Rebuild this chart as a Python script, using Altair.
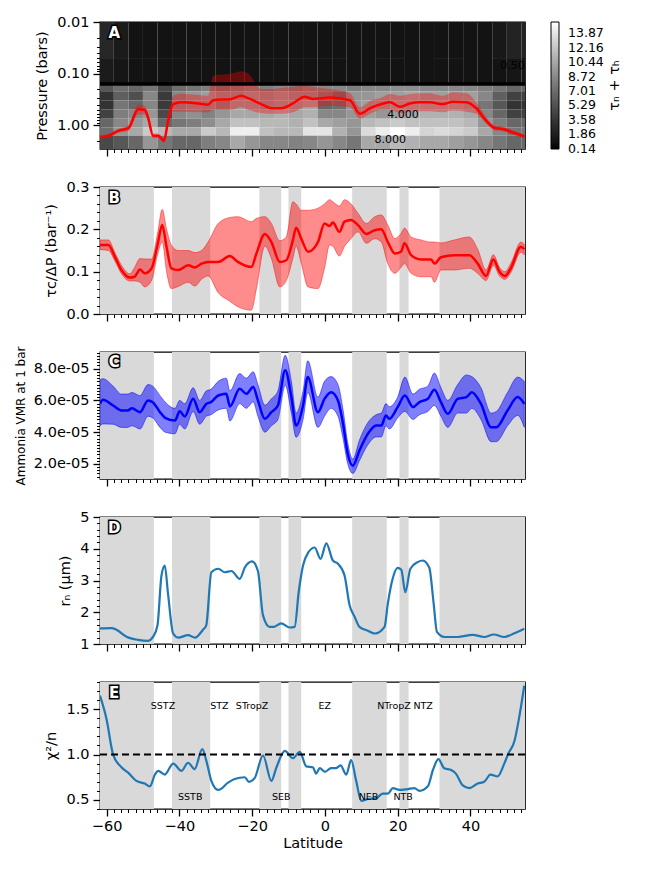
import altair as alt
import pandas as pd

# ---------------- shared ----------------
lat_domain = [-61.8, 55.0]
belt_start = [-65.0, -42.0, -18.0, -10.0, 7.5, 20.5, 31.5]
belt_end = [-47.0, -31.5, -12.0, -6.5, 17.0, 23.0, 60.0]

zone_names = ["SSTZ", "STZ", "STropZ", "EZ", "NTropZ", "NTZ"]
zone_lat = [-44.5, -29.0, -20.0, 0.0, 19.0, 27.0]
belt_names = ["SSTB", "SEB", "NEB", "NTB"]
belt_lat = [-37.0, -12.0, 12.0, 21.5]

# ---------------- panel A : tau_n + tau_h map ----------------
heat_lat_edges = [-62, -58, -54, -50, -46, -42, -38, -34, -30, -26, -22, -18, -14, -10, -6, -2,
                  2, 6, 10, 14, 18, 22, 26, 30, 34, 38, 42, 46, 50, 54, 58]
heat_p_edges = [0.01, 0.05, 0.16, 0.22, 0.33, 0.5, 0.75, 1.1, 1.6, 2.9]
heat_t1 = [2.5, 1.6] + [1.0] * 25 + [1.4, 2.2, 2.2]
heat_t2 = [1.6, 1.2] + [1.0] * 26 + [1.2, 1.2]
heat_r1 = [5.7, 7.1, 6.7, 7.6, 4.8, 7.1, 7.6, 8.1, 7.6, 8.1, 8.6, 8.1, 8.6, 8.1, 8.6,
           8.6, 8.6, 8.1, 8.6, 8.6, 9.0, 9.0, 8.6, 8.6, 8.6, 8.6, 8.1, 7.6, 6.7, 6.7]
heat_r2 = [3.3, 6.2, 5.2, 8.6, 3.8, 8.6, 9.5, 10.0, 9.5, 9.5, 10.0, 9.5, 10.0, 9.5, 9.5,
           8.1, 7.1, 9.5, 9.5, 10.0, 10.0, 10.5, 10.0, 10.0, 10.0, 10.0, 8.6, 6.2, 4.3, 4.3]
heat_r3 = [3.3, 7.6, 6.7, 8.6, 3.8, 9.0, 9.5, 9.5, 8.6, 10.0, 10.0, 9.5, 10.0, 10.0, 10.5,
           6.7, 7.1, 9.5, 10.0, 10.0, 10.5, 10.5, 10.5, 10.5, 10.5, 10.0, 7.6, 5.7, 3.3, 3.3]
heat_r4 = [4.3, 8.1, 8.6, 9.5, 4.8, 8.6, 9.2, 8.3, 9.5, 10.5, 10.5, 10.5, 11.0, 10.5, 11.0,
           8.6, 8.6, 9.5, 10.0, 9.5, 10.0, 10.5, 11.0, 11.0, 11.0, 10.5, 8.6, 6.7, 4.3, 4.3]
heat_r5 = [6.7, 8.6, 9.5, 10.5, 6.7, 7.6, 8.1, 9.0, 10.5, 11.9, 11.9, 11.4, 11.4, 11.0, 11.9,
           10.5, 10.0, 9.5, 11.4, 11.9, 12.4, 11.9, 11.9, 11.9, 11.9, 11.4, 9.5, 8.1, 6.7, 6.7]
heat_r6 = [7.1, 9.5, 10.5, 12.4, 11.4, 10.5, 10.5, 12.4, 11.4, 14.3, 14.3, 11.9, 11.4, 11.4, 13.8,
           13.8, 11.0, 9.5, 13.3, 14.3, 15.2, 14.3, 12.9, 13.3, 12.9, 12.4, 10.5, 8.6, 7.6, 7.6]
heat_r7 = [4.8, 5.7, 6.7, 9.5, 7.6, 6.7, 6.7, 8.1, 8.6, 10.5, 9.5, 8.6, 8.6, 8.3, 8.6,
           9.5, 8.6, 7.6, 10.5, 10.5, 11.4, 11.0, 10.5, 10.5, 10.0, 9.5, 8.6, 7.6, 6.7, 6.7]
heat_rows = [heat_t1, heat_t2, heat_r1, heat_r2, heat_r3, heat_r4, heat_r5, heat_r6, heat_r7]
cbar_domain = [0.12, 15.2]
cbar_ticks = [0.14, 1.86, 3.58, 5.29, 7.01, 8.72, 10.44, 12.16, 13.87]
cbar_label = "τₙ + τₕ"
haze_boundary_p = [0.16]

A_lat = [-61.8, -59.5, -56.8, -54.0, -51.3, -49.5, -48.6, -47.2, -45.8, -44.2, -43.1, -41.7,
         -39.4, -34.8, -32.1, -30.7, -25.7, -23.0, -21.1, -17.5, -14.7, -12.0, -8.3, -5.6,
         -3.3, 1.4, 6.9, 9.6, 12.4, 15.6, 17.9, 20.6, 23.3, 26.1, 28.8, 32.5, 35.2, 38.9,
         41.6, 44.4, 46.7, 48.9, 51.7, 54.8]
A_p = [1.70, 1.61, 1.29, 1.14, 0.49, 0.51, 0.71, 1.61, 1.61, 2.0, 0.83, 0.39,
       0.36, 0.38, 0.40, 0.33, 0.31, 0.27, 0.30, 0.39, 0.47, 0.47, 0.36, 0.28,
       0.31, 0.29, 0.33, 0.60, 0.47, 0.39, 0.36, 0.44, 0.38, 0.36, 0.36, 0.39, 0.35, 0.36,
       0.47, 0.83, 1.14, 1.19, 1.39, 1.65]
A_p_top = [1.55, 1.48, 1.18, 1.0, 0.40, 0.42, 0.60, 1.45, 1.45, 1.8, 0.7, 0.27,
           0.25, 0.26, 0.27, 0.11, 0.10, 0.09, 0.10, 0.20, 0.20, 0.19, 0.18, 0.17,
           0.18, 0.20, 0.24, 0.45, 0.34, 0.29, 0.25, 0.27, 0.25, 0.24, 0.24, 0.27, 0.23, 0.24,
           0.36, 0.70, 1.02, 1.07, 1.26, 1.50]
A_p_bot = [1.85, 1.75, 1.42, 1.30, 0.62, 0.62, 0.85, 1.8, 1.8, 2.2, 1.0, 0.55,
           0.55, 0.56, 0.56, 0.50, 0.50, 0.45, 0.50, 0.58, 0.60, 0.60, 0.55, 0.45,
           0.45, 0.42, 0.45, 0.75, 0.60, 0.50, 0.50, 0.58, 0.55, 0.54, 0.54, 0.56, 0.52, 0.55,
           0.60, 0.95, 1.27, 1.32, 1.53, 1.80]
contour_text = ["4.000", "8.000", "0.500"]
contour_lat = [21.5, 18.0, 52.5]
contour_p = [0.63, 1.95, 0.071]

# ---------------- panel B ----------------
B_lat = [-61.8, -59.5, -57.7, -55.9, -53.6, -52.3, -50.8, -49.5, -47.6, -46.0, -44.7, -43.5,
         -42.2, -40.3, -37.6, -35.7, -33.9, -32.1, -29.3, -26.1, -23.9, -20.2, -18.8, -16.5,
         -14.7, -12.4, -10.6, -8.8, -7.9, -6.5, -4.6, -1.9, -0.1, 1.3, 2.2, 4.0, 5.4, 7.2,
         9.1, 11.4, 13.7, 15.5, 17.3, 19.2, 20.9, 21.9, 23.7, 26.4, 29.2, 30.1, 31.9, 35.6,
         39.7, 42.0, 44.3, 46.3, 48.0, 49.5, 51.1, 53.9, 54.8]
B_val = [0.163, 0.163, 0.135, 0.104, 0.086, 0.088, 0.105, 0.096, 0.108, 0.163, 0.210, 0.158,
         0.108, 0.104, 0.115, 0.110, 0.119, 0.123, 0.123, 0.137, 0.123, 0.111, 0.143, 0.189,
         0.170, 0.123, 0.127, 0.174, 0.204, 0.178, 0.147, 0.170, 0.214, 0.208, 0.216, 0.194,
         0.218, 0.222, 0.210, 0.189, 0.198, 0.200, 0.170, 0.143, 0.147, 0.167, 0.139, 0.129,
         0.129, 0.119, 0.134, 0.139, 0.139, 0.119, 0.090, 0.129, 0.100, 0.090, 0.108, 0.159, 0.153]
B_hi = [0.175, 0.175, 0.145, 0.115, 0.095, 0.110, 0.131, 0.130, 0.130, 0.190, 0.247, 0.200,
        0.163, 0.150, 0.150, 0.145, 0.150, 0.170, 0.214, 0.228, 0.230, 0.218, 0.226, 0.230,
        0.214, 0.173, 0.182, 0.265, 0.260, 0.245, 0.245, 0.250, 0.260, 0.270, 0.265, 0.255,
        0.270, 0.260, 0.238, 0.214, 0.230, 0.234, 0.210, 0.178, 0.190, 0.203, 0.182, 0.175,
        0.170, 0.170, 0.168, 0.175, 0.182, 0.153, 0.104, 0.140, 0.110, 0.100, 0.120, 0.170, 0.165]
B_lo = [0.152, 0.150, 0.125, 0.095, 0.078, 0.078, 0.075, 0.064, 0.080, 0.140, 0.170, 0.100,
        0.060, 0.065, 0.075, 0.066, 0.082, 0.090, 0.050, 0.030, 0.017, 0.009, 0.060, 0.160,
        0.131, 0.064, 0.079, 0.131, 0.160, 0.120, 0.064, 0.060, 0.108, 0.163, 0.160, 0.137,
        0.160, 0.178, 0.194, 0.167, 0.178, 0.170, 0.119, 0.096, 0.110, 0.119, 0.096, 0.088,
        0.088, 0.075, 0.104, 0.104, 0.108, 0.096, 0.079, 0.115, 0.090, 0.082, 0.098, 0.146, 0.140]

# ---------------- panel C (units of 1e-5) ----------------
C_lat = [-61.8, -61.0, -58.2, -55.9, -54.2, -53.0, -50.8, -48.6, -47.3, -45.3, -43.9, -41.2,
         -39.9, -38.5, -36.2, -34.4, -32.6, -31.3, -29.3, -27.1, -26.1, -23.4, -21.6, -19.7,
         -18.4, -16.5, -14.7, -12.9, -10.9, -9.2, -7.9, -6.0, -4.7, -1.9, -0.1, 1.7, 3.6, 5.0,
         6.3, 7.7, 9.5, 11.8, 14.1, 15.5, 16.8, 17.7, 20.0, 22.0, 24.2, 26.0, 28.3, 30.1, 31.9,
         33.8, 36.5, 38.9, 40.4, 42.9, 45.7, 47.1, 50.2, 53.0, 54.8]
C_val = [5.80, 6.04, 5.68, 5.37, 5.37, 5.50, 5.26, 6.00, 5.89, 5.26, 4.90, 4.73,
         5.31, 4.99, 6.10, 5.26, 5.78, 5.89, 6.31, 6.42, 5.62, 6.74, 6.42, 6.84,
         6.00, 4.84, 5.26, 5.68, 7.90, 6.20, 4.42, 5.68, 7.47, 5.26, 6.10, 6.52, 6.00, 4.52,
         2.63, 1.89, 2.84, 3.89, 4.42, 4.42, 5.05, 4.84, 5.58, 6.31, 5.58, 5.89, 6.10, 6.67, 5.89,
         5.16, 6.10, 6.21, 6.52, 5.78, 4.31, 4.31, 5.37, 6.21, 5.78]
C_hi = [7.30, 7.37, 6.90, 6.40, 6.40, 6.50, 6.30, 7.00, 6.90, 6.30, 5.90, 5.50,
        6.00, 5.80, 6.80, 6.00, 6.60, 6.70, 7.20, 7.40, 6.60, 7.70, 7.40, 7.80,
        7.00, 5.70, 6.10, 6.60, 8.84, 7.20, 5.20, 6.60, 8.50, 6.20, 7.20, 7.50, 7.00, 5.40,
        3.30, 2.30, 3.50, 4.60, 5.10, 5.20, 5.80, 5.60, 6.20, 7.47, 6.40, 6.70, 6.90, 7.72, 6.80,
        6.00, 7.00, 7.60, 7.50, 6.80, 5.20, 5.30, 6.50, 7.47, 7.20]
C_lo = [4.40, 4.52, 4.50, 4.30, 4.30, 4.40, 4.20, 5.00, 4.90, 4.30, 4.00, 3.90,
        4.50, 4.20, 5.30, 4.50, 5.00, 5.10, 5.40, 5.50, 4.70, 5.80, 5.50, 5.90,
        5.00, 4.00, 4.40, 4.80, 6.95, 5.20, 3.68, 4.80, 6.50, 4.30, 5.00, 5.50, 5.00, 3.60,
        2.00, 1.40, 2.20, 3.20, 3.70, 3.70, 4.40, 4.20, 4.90, 5.30, 4.80, 5.10, 5.30, 5.68, 5.00,
        4.30, 5.20, 5.20, 5.50, 4.80, 3.40, 3.40, 4.40, 5.05, 4.31]

# ---------------- panel D ----------------
D_lat = [-61.8, -58.6, -57.3, -54.5, -51.3, -48.6, -47.2, -46.0, -44.9, -44.0, -43.1, -41.7,
         -40.3, -37.6, -35.7, -33.5, -32.6, -31.2, -29.3, -27.5, -25.7, -23.4, -22.0, -20.0,
         -18.4, -17.0, -15.2, -14.1, -12.0, -9.7, -8.3, -7.2, -6.0, -4.6, -2.8, -1.2, 0.4,
         2.2, 3.6, 5.4, 6.8, 8.2, 9.5, 11.8, 13.7, 16.4, 17.3, 18.4, 20.0, 21.0, 22.1, 23.5,
         25.5, 26.9, 28.7, 29.9, 30.8, 32.9, 36.5, 40.6, 43.8, 46.4, 49.3, 52.1, 54.8]
D_val = [1.49, 1.50, 1.45, 1.23, 1.13, 1.10, 1.23, 1.59, 3.16, 3.47, 2.58, 1.33,
         1.20, 1.28, 1.20, 1.45, 1.59, 3.26, 3.37, 3.26, 3.30, 3.05, 3.41, 3.60,
         3.30, 1.90, 1.54, 1.54, 1.65, 1.52, 1.54, 2.63, 3.47, 3.88, 4.04, 3.68, 4.17,
         3.63, 3.53, 3.16, 2.22, 1.85, 1.54, 1.42, 1.33, 1.54, 2.27, 2.95, 3.40, 3.34, 2.63, 3.37,
         3.58, 3.63, 3.40, 2.27, 1.38, 1.22, 1.22, 1.29, 1.22, 1.30, 1.22, 1.34, 1.48]

# ---------------- panel E ----------------
E_lat = [-61.8, -60.0, -58.2, -55.9, -53.8, -51.8, -49.5, -48.1, -46.7, -45.8, -44.0, -41.7,
         -39.4, -37.6, -35.8, -33.7, -32.5, -31.2, -29.3, -26.6, -24.8, -22.0, -20.9, -19.3,
         -17.0, -14.7, -13.3, -11.0, -8.8, -6.9, -5.1, -3.3, -2.4, -1.4, 0.0, 1.7, 3.0, 4.3,
         5.9, 7.2, 8.6, 10.0, 11.8, 14.1, 15.9, 17.3, 18.7, 20.5, 22.8, 24.6, 26.0, 28.3, 29.7,
         31.2, 32.8, 34.7, 36.0, 37.9, 39.7, 42.0, 43.8, 45.5, 47.5, 49.3, 50.4, 52.1, 53.4, 54.8]
E_val = [1.65, 1.39, 1.00, 0.86, 0.79, 0.71, 0.68, 0.65, 0.78, 0.82, 0.78, 0.90,
         0.82, 0.91, 0.84, 1.06, 0.92, 0.71, 0.61, 0.69, 0.73, 0.75, 0.70, 0.74,
         0.99, 0.71, 0.86, 1.04, 0.96, 1.03, 0.87, 0.86, 0.79, 0.85, 0.81, 0.85, 0.85, 0.88,
         0.78, 0.94, 0.71, 0.49, 0.51, 0.52, 0.57, 0.57, 0.63, 0.61, 0.62, 0.63, 0.60, 0.65, 0.83,
         0.95, 0.85, 0.83, 0.79, 0.66, 0.63, 0.68, 0.70, 0.78, 0.76, 0.90, 1.01, 1.15, 1.41, 1.76]
E_ref = [1.0]

letter_lat = -57.9
letter_y = {"A": 0.0164, "B": 0.274, "C": 8.4, "D": 4.66, "E": 1.68}
zone_label_y = 1.54
belt_label_y = 0.535

# ---------------- build ----------------
W, H = 425, 127
FS = 14.5
xscale = alt.Scale(domain=lat_domain, nice=False, zero=False)
x_ticks = list(range(-62, 56, 2))
x_major = "datum.value % 20 === 0"


def x_axis(show):
    kw = dict(values=x_ticks, grid=False, domain=False, labelOverlap=False, labelFlush=False,
              tickColor="black",
              tickSize={"condition": {"test": x_major, "value": 7}, "value": 3.5},
              tickWidth={"condition": {"test": x_major, "value": 1.3}, "value": 1.0})
    if show:
        kw.update(labels=True, labelExpr=f"{x_major} ? format(datum.value, 'd') : ''",
                  title="Latitude", labelPadding=3, titlePadding=4, labelFontSize=FS,
                  titleFontSize=FS)
    else:
        kw.update(labels=False, title=None)
    return alt.Axis(**kw)


def X(field, show):
    return alt.X(field, type="quantitative", scale=xscale, axis=x_axis(show))


def y_axis(title, values, major, label_expr, title_size=FS, title_pad=7):
    return alt.Axis(values=values, title=title, grid=False, domain=False, labelOverlap=False,
                    labelFlush=False, labelExpr=f"({major}) ? {label_expr} : ''",
                    tickSize={"condition": {"test": major, "value": 7}, "value": 3.5},
                    tickWidth={"condition": {"test": major, "value": 1.3}, "value": 1.0},
                    tickColor="black", labelPadding=4, titlePadding=title_pad,
                    labelFontSize=FS, titleFontSize=title_size)


belts_df = pd.DataFrame({"x0": belt_start, "x1": belt_end})


def belts(show):
    return alt.Chart(belts_df).mark_rect(color="#d9d9d9", clip=True).encode(
        x=X("x0", show), x2="x1")


def letter(name, yenc_field_scale, show):
    df = pd.DataFrame({"lat": [letter_lat], "y": [letter_y[name]], "t": [name]})
    ysc, yax = yenc_field_scale
    base = alt.Chart(df).encode(x=X("lat", show), y=alt.Y("y:Q", scale=ysc, axis=yax), text="t:N")
    outline = base.mark_text(fontSize=15, fontWeight="bold", color="black", stroke="black",
                             strokeWidth=3)
    fill = base.mark_text(fontSize=15, fontWeight="bold", color="white")
    return outline + fill


# ---- panel A ----
heat_records = []
for i, row in enumerate(heat_rows):
    for j, v in enumerate(row):
        heat_records.append({"lat0": heat_lat_edges[j], "lat1": heat_lat_edges[j + 1],
                             "p0": heat_p_edges[i], "p1": heat_p_edges[i + 1], "v": v})
heat_df = pd.DataFrame(heat_records)

yA_scale = alt.Scale(type="log", domain=[0.01, 2.9], reverse=True, nice=False)
yA_vals = [0.01, 0.02, 0.03, 0.04, 0.05, 0.06, 0.07, 0.08, 0.09, 0.1, 0.2, 0.3, 0.4, 0.5, 0.6,
           0.7, 0.8, 0.9, 1, 2]
yA_major = "abs(log(datum.value)/LN10 - round(log(datum.value)/LN10)) < 1e-6"
yA_axis = y_axis("Pressure (bars)", yA_vals, yA_major, "format(datum.value, '.2f')")
cscale = alt.Scale(domain=cbar_domain, range=["#000000", "#ffffff"])

heat = alt.Chart(heat_df).mark_rect(clip=True).encode(
    x=X("lat0", False), x2="lat1",
    y=alt.Y("p0:Q", scale=yA_scale, axis=yA_axis), y2="p1",
    color=alt.Color("v:Q", scale=cscale, legend=alt.Legend(
        title=None, values=cbar_ticks, format=".2f", direction="vertical", orient="none",
        legendX=W + 26, legendY=0, type="gradient",
        gradientLength=H, gradientThickness=8, padding=0, labelOffset=9,
        labelFontSize=12.5, labelOverlap=False,
        gradientStrokeColor="black", gradientStrokeWidth=1)))

A_df = pd.DataFrame({"lat": A_lat, "p": A_p, "top": A_p_top, "bot": A_p_bot})
A_band = alt.Chart(A_df).mark_area(color="#ff0000", opacity=0.35, interpolate="monotone",
                                   clip=True).encode(
    x=X("lat", False), y=alt.Y("top:Q", scale=yA_scale, axis=yA_axis), y2="bot")
A_rule = alt.Chart(pd.DataFrame({"p": haze_boundary_p})).mark_rule(
    color="black", strokeWidth=3.5).encode(y=alt.Y("p:Q", scale=yA_scale, axis=yA_axis))
A_line = alt.Chart(A_df).mark_line(color="#ff0000", strokeWidth=2.5, interpolate="monotone",
                                   clip=True).encode(
    x=X("lat", False), y=alt.Y("p:Q", scale=yA_scale, axis=yA_axis))
A_ctext = alt.Chart(pd.DataFrame({"lat": contour_lat, "p": contour_p, "t": contour_text})
                    ).mark_text(fontSize=11, color="#000000", clip=True).encode(
    x=X("lat", False), y=alt.Y("p:Q", scale=yA_scale, axis=yA_axis), text="t:N")
A_cbar_title = alt.Chart(pd.DataFrame({"t": [cbar_label]})).mark_text(
    fontSize=FS, angle=270, color="black").encode(
    x=alt.value(W + 90), y=alt.value(H / 2), text="t:N")
panelA = alt.layer(heat, A_band, A_rule, A_line, A_ctext,
                   letter("A", (yA_scale, yA_axis), False), A_cbar_title
                   ).properties(width=W, height=H)

# ---- panel B ----
yB_scale = alt.Scale(domain=[0, 0.3], nice=False, zero=False)
yB_vals = [round(i * 0.02, 2) for i in range(16)]
yB_major = "abs(datum.value*10 - round(datum.value*10)) < 1e-6"
yB_axis = y_axis("τc/ΔP (bar⁻¹)", yB_vals, yB_major, "format(datum.value, '.1f')")
B_df = pd.DataFrame({"lat": B_lat, "v": B_val, "hi": B_hi, "lo": B_lo})
B_band = alt.Chart(B_df).mark_area(color="#ff0000", fillOpacity=0.45, stroke="#ff0000",
                                   strokeOpacity=0.45, strokeWidth=1, interpolate="monotone",
                                   clip=True).encode(
    x=X("lat", False), y=alt.Y("hi:Q", scale=yB_scale, axis=yB_axis), y2="lo")
B_line = alt.Chart(B_df).mark_line(color="#ff0000", strokeWidth=2.5, interpolate="monotone",
                                   clip=True).encode(
    x=X("lat", False), y=alt.Y("v:Q", scale=yB_scale, axis=yB_axis))
panelB = alt.layer(belts(False), B_band, B_line,
                   letter("B", (yB_scale, yB_axis), False)).properties(width=W, height=H)

# ---- panel C ----
yC_scale = alt.Scale(domain=[1.05, 9.05], nice=False, zero=False)
yC_vals = [round(1.2 + i * 0.2, 1) for i in range(40)]
yC_major = "abs(datum.value/2 - round(datum.value/2)) < 1e-6"
yC_axis = y_axis("Ammonia VMR at 1 bar", yC_vals, yC_major,
                 "format(datum.value, '.1f') + 'e-05'", title_size=12, title_pad=6)
C_df = pd.DataFrame({"lat": C_lat, "v": C_val, "hi": C_hi, "lo": C_lo})
C_band = alt.Chart(C_df).mark_area(color="#0000ff", fillOpacity=0.5, stroke="#0000ff",
                                   strokeOpacity=0.5, strokeWidth=1, interpolate="monotone",
                                   clip=True).encode(
    x=X("lat", False), y=alt.Y("hi:Q", scale=yC_scale, axis=yC_axis), y2="lo")
C_line = alt.Chart(C_df).mark_line(color="#0000ff", strokeWidth=2.5, interpolate="monotone",
                                   clip=True).encode(
    x=X("lat", False), y=alt.Y("v:Q", scale=yC_scale, axis=yC_axis))
panelC = alt.layer(belts(False), C_band, C_line,
                   letter("C", (yC_scale, yC_axis), False)).properties(width=W, height=H)

# ---- panel D ----
yD_scale = alt.Scale(domain=[1, 5], nice=False, zero=False)
yD_vals = [round(1 + i * 0.2, 1) for i in range(21)]
yD_major = "abs(datum.value - round(datum.value)) < 1e-6"
yD_axis = y_axis("rₙ (μm)", yD_vals, yD_major, "format(datum.value, 'd')")
D_df = pd.DataFrame({"lat": D_lat, "v": D_val})
D_line = alt.Chart(D_df).mark_line(color="#1f77b4", strokeWidth=2.2, interpolate="monotone",
                                   clip=True).encode(
    x=X("lat", False), y=alt.Y("v:Q", scale=yD_scale, axis=yD_axis))
panelD = alt.layer(belts(False), D_line,
                   letter("D", (yD_scale, yD_axis), False)).properties(width=W, height=H)

# ---- panel E ----
yE_scale = alt.Scale(domain=[0.4, 1.8], nice=False, zero=False)
yE_vals = [round(0.4 + i * 0.1, 1) for i in range(15)]
yE_major = "abs(datum.value*2 - round(datum.value*2)) < 1e-6"
yE_axis = y_axis("χ²/n", yE_vals, yE_major, "format(datum.value, '.1f')")
E_df = pd.DataFrame({"lat": E_lat, "v": E_val})
E_line = alt.Chart(E_df).mark_line(color="#1f77b4", strokeWidth=2.2, interpolate="monotone",
                                   clip=True).encode(
    x=X("lat", True), y=alt.Y("v:Q", scale=yE_scale, axis=yE_axis))
E_rule = alt.Chart(pd.DataFrame({"v": E_ref})).mark_rule(
    color="black", strokeWidth=2, strokeDash=[7, 4]).encode(
    y=alt.Y("v:Q", scale=yE_scale, axis=yE_axis))
labels_df = pd.DataFrame({"lat": zone_lat + belt_lat, "t": zone_names + belt_names,
                          "y": [zone_label_y] * len(zone_lat) + [belt_label_y] * len(belt_lat)})
E_text = alt.Chart(labels_df).mark_text(fontSize=9.5, color="black").encode(
    x=X("lat", True), y=alt.Y("y:Q", scale=yE_scale, axis=yE_axis), text="t:N")
panelE = alt.layer(belts(True), E_line, E_rule, E_text,
                   letter("E", (yE_scale, yE_axis), True)).properties(width=W, height=H)

chart = alt.vconcat(panelA, panelB, panelC, panelD, panelE, spacing=38, bounds="flush"
                    ).configure(font="DejaVu Sans").configure_view(
    stroke="black", strokeWidth=1.3).configure_axis(
    labelColor="black", titleColor="black", titleFontWeight="normal").configure_legend(
    labelColor="black", titleColor="black")

chart.save("out.html", embed_options={"renderer": "svg", "actions": False})
